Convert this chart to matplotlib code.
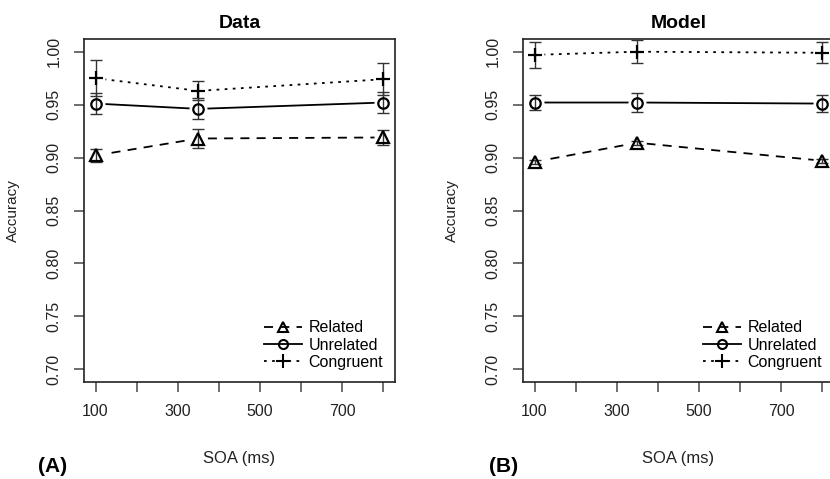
import matplotlib.pyplot as plt
from matplotlib.lines import Line2D

plt.rcParams['font.family'] = ['Liberation Sans', 'DejaVu Sans']

soa = [100, 350, 800]
xticks = [100, 200, 300, 400, 500, 600, 700, 800]
xticklabels = ['100', '', '300', '', '500', '', '700', '']
yticks = [0.70, 0.75, 0.80, 0.85, 0.90, 0.95, 1.00]

data_related = [0.902, 0.918, 0.919]
data_related_err = [0.006, 0.009, 0.007]
data_unrelated = [0.951, 0.946, 0.952]
data_unrelated_err = [0.010, 0.010, 0.010]
data_congruent = [0.975, 0.963, 0.974]
data_congruent_err = [0.017, 0.009, 0.015]

model_related = [0.896, 0.914, 0.897]
model_related_err = [0.002, 0.002, 0.002]
model_unrelated = [0.952, 0.952, 0.951]
model_unrelated_err = [0.007, 0.009, 0.008]
model_congruent = [0.997, 1.000, 0.999]
model_congruent_err = [0.012, 0.011, 0.010]

styles = {
    'Related': dict(ls=(0, (5, 4)), marker='^', ms=8.5),
    'Unrelated': dict(ls='-', marker='o', ms=7.5),
    'Congruent': dict(ls=(0, (1.5, 3)), marker='+', ms=10.5),
}


def draw_series(ax, y, err, name):
    st = styles[name]
    ax.plot(soa, y, color='black', lw=1.3, ls=st['ls'], zorder=1)
    # white disc gives the gap between line and point
    ax.plot(soa, y, ls='none', marker='o', ms=12, mfc='white', mec='white', zorder=2)
    ax.errorbar(soa, y, yerr=err, fmt='none', ecolor='#333333', elinewidth=1.0,
                capsize=4.5, capthick=1.0, zorder=3)
    ax.plot(soa, y, ls='none', marker=st['marker'], ms=st['ms'],
            mfc='none', mec='black', mew=1.6, zorder=4)


def style_axes(ax, title, tag, tag_x):
    ax.set_xlim(72, 828)
    ax.set_ylim(0.688, 1.012)
    ax.set_xticks(xticks)
    ax.set_xticklabels(xticklabels)
    ax.set_yticks(yticks)
    ax.set_yticklabels(['%.2f' % v for v in yticks])
    for lbl in ax.get_yticklabels():
        lbl.set_rotation(90)
        lbl.set_va('center')
    ax.tick_params(length=7, width=1.2, color='#555555', pad=9, labelsize=11.5,
                   labelcolor='#222222')
    for sp in ax.spines.values():
        sp.set_color('#222222')
        sp.set_linewidth(1.2)
    ax.set_title(title, fontsize=14, fontweight='bold', pad=8)
    ax.set_ylabel('Accuracy', fontsize=11, color='#222222')
    ax.yaxis.set_label_coords(-0.205, 0.5)
    ax.set_xlabel('SOA (ms)', fontsize=12, color='#222222')
    ax.xaxis.set_label_coords(0.5, -0.2)
    ax.text(tag_x, -0.245, tag, transform=ax.transAxes, fontsize=15,
            fontweight='bold', ha='center', va='center')
    handles = [Line2D([], [], color='black', lw=1.3, ls=styles[n]['ls'],
                      marker=styles[n]['marker'], ms=styles[n]['ms'] - 1,
                      mfc='none', mew=1.5) for n in styles]
    ax.legend(handles, list(styles), loc='lower right', frameon=False,
              fontsize=11.5, handlelength=2.4, handletextpad=0.4,
              labelspacing=0.15, borderaxespad=0.35)


fig = plt.figure(figsize=(8.3, 4.79), dpi=100)
ax1 = fig.add_axes([84 / 830, 97 / 479, 311 / 830, 343 / 479])
ax2 = fig.add_axes([523 / 830, 97 / 479, 311 / 830, 343 / 479])

draw_series(ax1, data_related, data_related_err, 'Related')
draw_series(ax1, data_unrelated, data_unrelated_err, 'Unrelated')
draw_series(ax1, data_congruent, data_congruent_err, 'Congruent')
style_axes(ax1, 'Data', '(A)', -0.10)

draw_series(ax2, model_related, model_related_err, 'Related')
draw_series(ax2, model_unrelated, model_unrelated_err, 'Unrelated')
draw_series(ax2, model_congruent, model_congruent_err, 'Congruent')
style_axes(ax2, 'Model', '(B)', -0.061)

fig.savefig('out.png', dpi=100)
